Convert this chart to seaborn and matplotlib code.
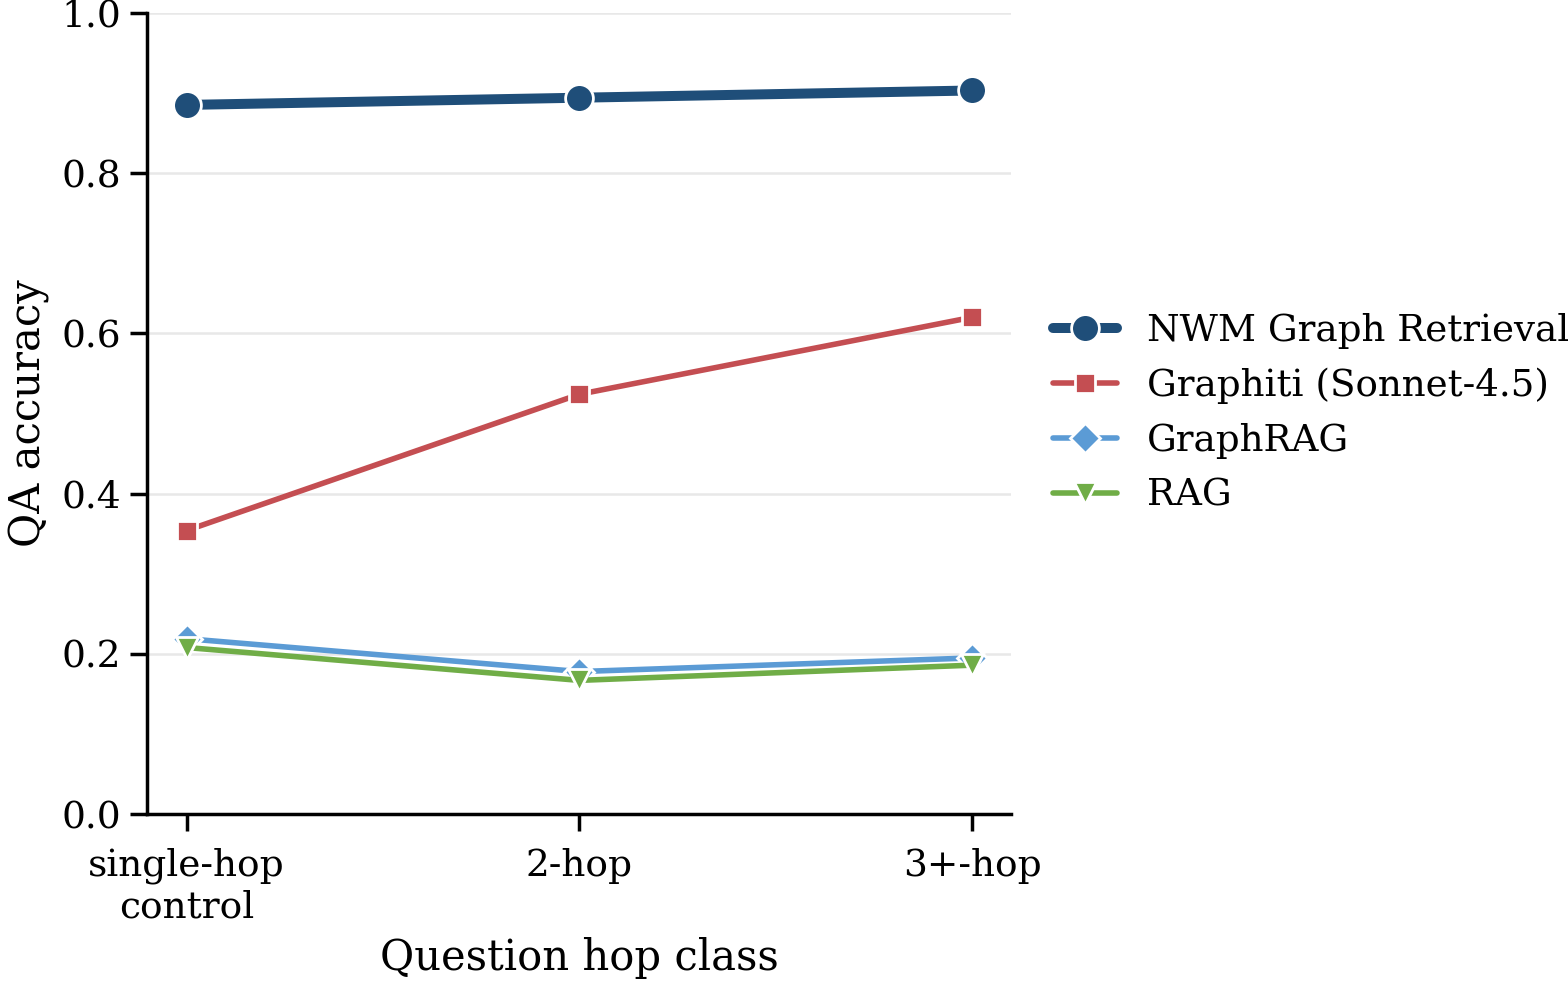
import pandas as pd
import matplotlib
matplotlib.use("Agg")
import matplotlib.pyplot as plt
import seaborn as sns

hop_classes = ["single-hop\ncontrol", "2-hop", "3+-hop"]
nwm = [0.885, 0.894, 0.903]
graphiti = [0.354, 0.524, 0.620]
graphrag = [0.219, 0.178, 0.195]
rag = [0.208, 0.167, 0.186]

series = {
    "NWM Graph Retrieval": nwm,
    "Graphiti (Sonnet-4.5)": graphiti,
    "GraphRAG": graphrag,
    "RAG": rag,
}
colors = ["#1f4e79", "#c44e52", "#5b9bd5", "#70ad47"]
markers = ["o", "s", "D", "v"]
widths = [3.6, 2.0, 2.0, 2.0]
msizes = [10, 7.5, 7.5, 8]

sns.set_theme(style="ticks")
plt.rcParams["font.family"] = ["DejaVu Serif"]
for k in ["text.color", "axes.labelcolor", "xtick.color", "ytick.color", "axes.edgecolor"]:
    plt.rcParams[k] = "black"

fig, ax = plt.subplots(figsize=(7.84, 4.905), dpi=200)

for (name, vals), c, m, lw, ms in zip(series.items(), colors, markers, widths, msizes):
    df = pd.DataFrame({"x": range(len(hop_classes)), "acc": vals})
    sns.lineplot(data=df, x="x", y="acc", ax=ax, color=c, marker=m, lw=lw,
                 markersize=ms, markeredgecolor="white", markeredgewidth=1.0,
                 label=name)

ax.set_xticks(range(len(hop_classes)))
ax.set_xticklabels(hop_classes, fontsize=13.5)
ax.set_xlim(-0.1, 2.1)
ax.set_ylim(0, 1.0)
ax.set_yticks([0.0, 0.2, 0.4, 0.6, 0.8, 1.0])
ax.tick_params(axis="y", labelsize=13.5)
ax.tick_params(axis="x", pad=6)
ax.yaxis.grid(True, color="#e8e8e8", lw=0.9)
ax.set_axisbelow(True)
ax.set_xlabel("Question hop class", fontsize=15)
ax.set_ylabel("QA accuracy", fontsize=15)
sns.despine(ax=ax)
ax.legend(loc="center left", bbox_to_anchor=(1.01, 0.5), frameon=False,
          fontsize=13.4, handlelength=1.7)

fig.subplots_adjust(left=0.094, right=0.645, top=0.987, bottom=0.17)
fig.savefig("out.png", dpi=200)
